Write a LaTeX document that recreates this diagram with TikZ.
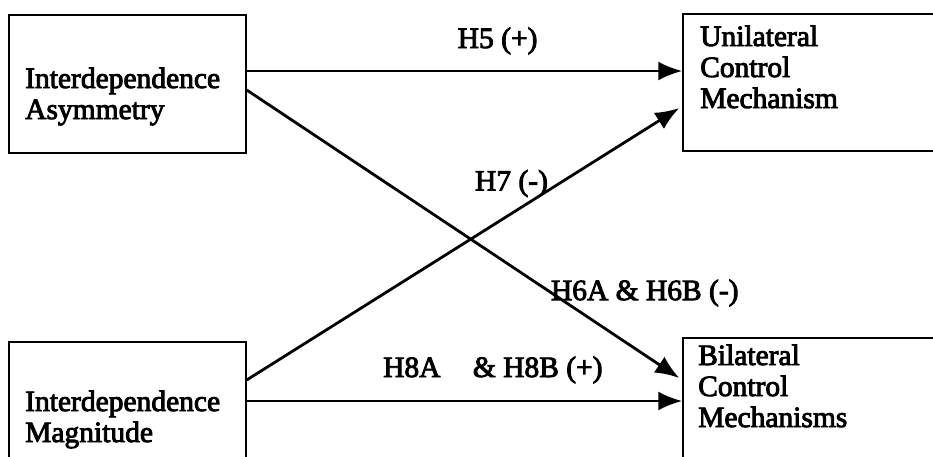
\documentclass[tikz,border=0pt]{standalone}
\usepackage{fontspec}
\setmainfont{Liberation Serif}[BoldFont=Liberation Serif,BoldFeatures={FakeBold=3}]
\usetikzlibrary{arrows.meta,positioning}

\begin{document}
\begin{tikzpicture}[x=1pt,y=-1pt,>={Latex[length=24pt,width=19pt]},
  box/.style={draw,line width=1.4pt,inner sep=0pt},
  boxtext/.style={anchor=base west,align=left,inner sep=0pt,font=\fontsize{29.5}{31}\selectfont\bfseries},
  hyp/.style={font=\fontsize{29.5}{31}\selectfont\bfseries,inner sep=0pt},
  link/.style={->,line width=2.8pt}]
  \useasboundingbox (0,0) rectangle (933,456);
  \clip (0,0) rectangle (933,456);
  % boxes
  \node[box,minimum width=237pt,minimum height=138pt] (asym) at (127.5,84) {};
  \node[box,minimum width=270pt,minimum height=137pt] (unil) at (818,82.5) {};
  \node[box,minimum width=237pt,minimum height=128pt] (magn) at (127.5,406) {};
  \node[box,minimum width=270pt,minimum height=132pt] (bilat) at (818,404) {};
  % box texts (base = last line)
  \node[boxtext] (asymtext) at (25,119) {Interdependence\\Asymmetry};
  \node[boxtext] (uniltext) at (700,108) {Unilateral\\Control\\Mechanism};
  \node[boxtext] (magntext) at (25,442) {Interdependence\\Magnitude};
  \node[boxtext] (bilattext) at (698,427) {Bilateral\\Control\\Mechanisms};
  % hypotheses
  \draw[link] ([yshift=13pt]asym.east) -- node[hyp,pos=0.576,anchor=base,yshift=23pt] {H5 (+)} ([yshift=11.5pt]unil.west);
  \draw[link] ([yshift=-6pt]asym.east) -- node[hyp,pos=0.70,anchor=base west,yshift=-8.5pt] {H6A \& H6B (-)} ([xshift=-3pt,yshift=26pt]bilat.west);
  \draw[link] ([yshift=26pt]magn.east) -- node[hyp,pos=0.612,anchor=base,yshift=23pt] {H7 (-)} ([xshift=-3pt,yshift=-25.5pt]unil.west);
  \draw[link] ([yshift=5pt]magn.east) -- node[hyp,pos=0.31,anchor=base west,yshift=24pt] {H8A\hspace{25pt} \& H8B (+)} ([yshift=3pt]bilat.west);
\end{tikzpicture}
\end{document}
